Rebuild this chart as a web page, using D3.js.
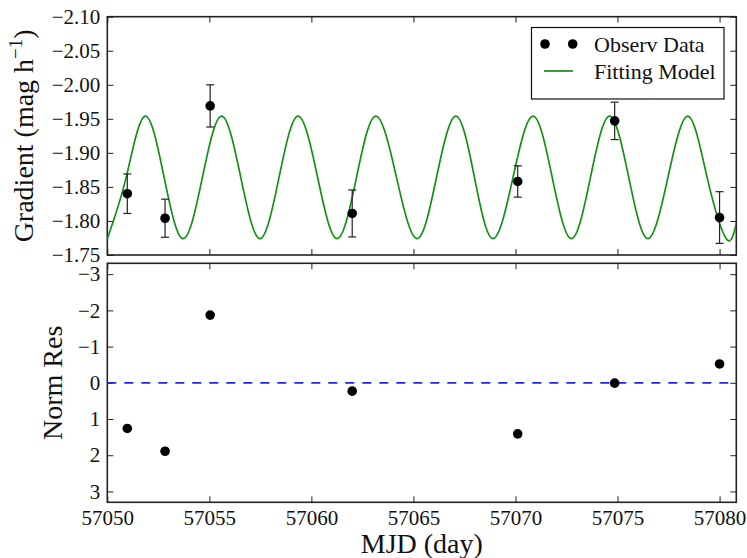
<!DOCTYPE html>
<html><head><meta charset="utf-8">
<script src="https://cdn.jsdelivr.net/npm/d3@7"></script>
<style>
html,body{margin:0;padding:0;background:#fff;}
svg{display:block;}
text{font-family:"Liberation Serif","Times New Roman",serif;fill:#111;}
</style></head>
<body>
<svg id="c" width="747" height="558"></svg>
<script>
// ---- data ----
const obsMJD  = [57050.98, 57052.83, 57055.04, 57062.00, 57070.11, 57074.86, 57080.00];
const obsGrad = [-1.840, -1.804, -1.969, -1.811, -1.858, -1.947, -1.805];
const obsErr  = [0.029, 0.028, 0.031, 0.0345, 0.023, 0.0275, 0.038];
const normRes = [1.26, 1.89, -1.87, 0.23, 1.41, 0.01, -0.52];

const modelMJD = [57050.00, 57050.925, 57051.85, 57052.785, 57053.72, 57054.66, 57055.60, 57056.54,
  57057.48, 57058.415, 57059.35, 57060.305, 57061.26, 57062.21, 57063.16, 57064.17,
  57065.18, 57066.13, 57067.08, 57067.99, 57068.90, 57069.88, 57070.86, 57071.80,
  57072.74, 57073.675, 57074.61, 57075.55, 57076.49, 57077.47, 57078.45, 57079.39,
  57080.33, 57080.82];
const modelGrad = [-1.774, -1.864, -1.954, -1.864, -1.774, -1.864, -1.954, -1.864,
  -1.774, -1.864, -1.954, -1.864, -1.774, -1.864, -1.954, -1.864,
  -1.774, -1.864, -1.954, -1.864, -1.774, -1.864, -1.954, -1.864,
  -1.774, -1.864, -1.954, -1.864, -1.774, -1.864, -1.954, -1.864,
  -1.774, -1.797];

const xTicks = [57050, 57055, 57060, 57065, 57070, 57075, 57080];
const gradTicks = [-2.10, -2.05, -2.00, -1.95, -1.90, -1.85, -1.80, -1.75];
const resTicks = [-3, -2, -1, 0, 1, 2, 3];
const legendLabels = ["Observ Data", "Fitting Model"];

// ---- layout ----
const svg = d3.select("#c");
const L = 107.3, R = 736.3;
const top1 = 16.7, bot1 = 255;
const top2 = 263.3, bot2 = 502.3;

const x = d3.scaleLinear().domain([57050, 57080.82]).range([L, R]);
const yG = d3.scaleLinear().domain([-2.10, -1.75]).range([top1, bot1]);
const yR = d3.scaleLinear().domain([-3.3, 3.3]).range([top2, bot2]);

const axisCol = "#222";
const tickLen = 6;

function frame(y0, y1, yScale, yTicksArr, fmt, clipId) {
  svg.append("clipPath").attr("id", clipId).append("rect")
    .attr("x", L).attr("y", y0).attr("width", R - L).attr("height", y1 - y0);
  const g = svg.append("g");
  const left = g.append("g").attr("transform", `translate(${L},0)`)
    .call(d3.axisLeft(yScale).tickValues(yTicksArr).tickFormat(fmt).tickSizeInner(-tickLen).tickSizeOuter(0).tickPadding(7));
  const right = g.append("g").attr("transform", `translate(${R},0)`)
    .call(d3.axisRight(yScale).tickValues(yTicksArr).tickFormat("").tickSizeInner(-tickLen).tickSizeOuter(0));
  const topAx = g.append("g").attr("transform", `translate(0,${y0})`)
    .call(d3.axisTop(x).tickValues(xTicks).tickFormat("").tickSizeInner(-tickLen).tickSizeOuter(0));
  const botAx = g.append("g").attr("transform", `translate(0,${y1})`)
    .call(d3.axisBottom(x).tickValues(xTicks).tickFormat(d3.format("d")).tickSizeInner(-tickLen).tickSizeOuter(0).tickPadding(8));
  [left, right, topAx, botAx].forEach(a => {
    a.select(".domain").remove();
    a.selectAll(".tick line").attr("stroke", axisCol).attr("stroke-width", 1);
    a.selectAll("text").attr("font-family", "Liberation Serif").attr("font-size", 21).attr("fill", "#111");
  });
  g.append("rect").attr("x", L).attr("y", y0).attr("width", R - L).attr("height", y1 - y0)
    .attr("fill", "none").attr("stroke", axisCol).attr("stroke-width", 1.6);
  return botAx;
}

// top panel (x tick labels hidden: shared axis)
const b1 = frame(top1, bot1, yG, gradTicks, d3.format(".2f"), "clip1");
b1.selectAll("text").remove();
// bottom panel
frame(top2, bot2, yR, resTicks, d3.format("d"), "clip2");

// model curve
const line = d3.line().x((d, i) => x(modelMJD[i])).y(d => yG(d)).curve(d3.curveNatural);
svg.append("path").attr("clip-path", "url(#clip1)")
  .attr("d", line(modelGrad))
  .attr("fill", "none").attr("stroke", "#139113").attr("stroke-width", 1.7);

// error bars
const eb = svg.append("g").attr("stroke", "#222").attr("stroke-width", 1.2);
obsMJD.forEach((m, i) => {
  const cx = x(m), lo = yG(obsGrad[i] - obsErr[i]), hi = yG(obsGrad[i] + obsErr[i]);
  eb.append("line").attr("x1", cx).attr("x2", cx).attr("y1", lo).attr("y2", hi);
  eb.append("line").attr("x1", cx - 4).attr("x2", cx + 4).attr("y1", lo).attr("y2", lo);
  eb.append("line").attr("x1", cx - 4).attr("x2", cx + 4).attr("y1", hi).attr("y2", hi);
});
svg.append("g").selectAll("circle").data(obsGrad).join("circle")
  .attr("cx", (d, i) => x(obsMJD[i])).attr("cy", d => yG(d)).attr("r", 4.8).attr("fill", "#000");

// residual panel
svg.append("line").attr("x1", L).attr("x2", R).attr("y1", yR(0)).attr("y2", yR(0))
  .attr("stroke", "#2323e6").attr("stroke-width", 1.7).attr("stroke-dasharray", "9,8");
svg.append("g").selectAll("circle").data(normRes).join("circle")
  .attr("cx", (d, i) => x(obsMJD[i])).attr("cy", d => yR(d)).attr("r", 4.8).attr("fill", "#000");

// legend
const lg = svg.append("g");
lg.append("rect").attr("x", 531.5).attr("y", 27.5).attr("width", 192.5).attr("height", 71.5)
  .attr("fill", "#fff").attr("stroke", "#111").attr("stroke-width", 1.2);
[545, 572.7].forEach(cx => lg.append("circle").attr("cx", cx).attr("cy", 44).attr("r", 4.8).attr("fill", "#000"));
lg.append("line").attr("x1", 544).attr("x2", 573).attr("y1", 71).attr("y2", 71)
  .attr("stroke", "#139113").attr("stroke-width", 1.7);
lg.append("text").attr("x", 594).attr("y", 51.5).attr("font-size", 22).text(legendLabels[0]);
lg.append("text").attr("x", 594).attr("y", 78.5).attr("font-size", 22).text(legendLabels[1]);

// axis labels
const yl1 = svg.append("text").attr("transform", `translate(33,${(top1 + bot1) / 2}) rotate(-90)`)
  .attr("text-anchor", "middle").attr("font-size", 28);
yl1.append("tspan").text("Gradient (mag h");
yl1.append("tspan").attr("font-size", 19).attr("dy", -11).text("\u22121");
yl1.append("tspan").attr("dy", 11).text(")");

svg.append("text").attr("transform", `translate(61.5,${(top2 + bot2) / 2}) rotate(-90)`)
  .attr("text-anchor", "middle").attr("font-size", 28).text("Norm Res");
svg.append("text").attr("x", (L + R) / 2).attr("y", 553).attr("text-anchor", "middle")
  .attr("font-size", 28).text("MJD (day)");
</script>
</body></html>
